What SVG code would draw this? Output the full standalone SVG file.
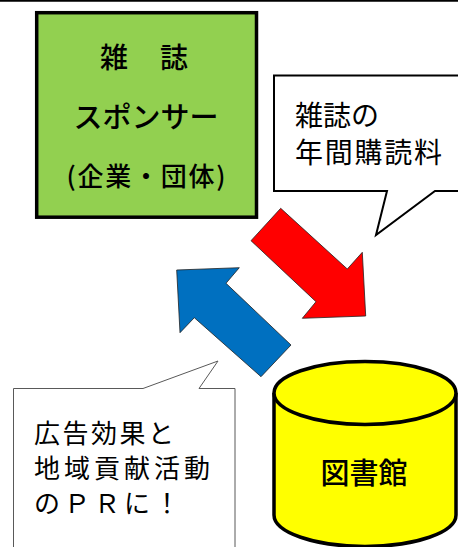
<svg xmlns="http://www.w3.org/2000/svg" width="458" height="547" viewBox="0 0 458 547">
<style>
.jp{font-family:"Noto Sans CJK JP","Noto Sans CJK SC",sans-serif;fill:#000}
.b{font-weight:500}
.call{fill:#fff}
</style>
<rect width="458" height="547" fill="#fff"/>
<line x1="0" y1="0.8" x2="458" y2="0.8" stroke="#000" stroke-width="1.7"/>
<g id="sponsor">
<rect x="36.7" y="12.7" width="219.8" height="204.5" fill="#92D050" stroke="#000" stroke-width="3.5"/>
<text class="jp b" x="145" y="68" font-size="28" text-anchor="middle" letter-spacing="2">雑　誌</text>
<text class="jp b" x="146" y="128" font-size="29" text-anchor="middle" textLength="145" lengthAdjust="spacingAndGlyphs">スポンサー</text>
<text class="jp b" x="146" y="186" font-size="26" text-anchor="middle" textLength="159" lengthAdjust="spacing">(企業・団体)</text>
</g>
<g id="callout-fee">
<path class="call" d="M274,75.5 H470 V191 H435 L376,235 L387,191 H274 Z" stroke="#000" stroke-width="2" stroke-linejoin="miter"/>
<text class="jp" x="295" y="126" font-size="28">雑誌の</text>
<text class="jp" x="295" y="163" font-size="28" textLength="147" lengthAdjust="spacing">年間購読料</text>
</g>
<g id="callout-pr">
<path class="call" d="M13.5,388.5 H143 L218,361 L199,388.5 H235 V560 H13.5 Z" stroke="#595959" stroke-width="1"/>
<text class="jp" x="34" y="443" font-size="26" textLength="140" lengthAdjust="spacing">広告効果と</text>
<text class="jp" x="34" y="478" font-size="26" textLength="176" lengthAdjust="spacing">地域貢献活動</text>
<text class="jp" x="34" y="513" font-size="26" textLength="146" lengthAdjust="spacing">のＰＲに！</text>
</g>
<g id="connectors">
<polygon points="280.7,208.3 251,240.7 316,301.7 302.3,318.3 365.7,316 362.3,252.3 347.3,269" fill="#FF0000" stroke="#222" stroke-width="0.8"/>
<polygon points="176.7,270 239.3,267.7 226,283.3 291,345 261,376.7 194.3,317.7 180,332.7" fill="#0070C0" stroke="#222" stroke-width="0.8"/>
</g>
<g id="library">
<path d="M274,393 V515 A91,31.5 0 0 0 456,515 V393" fill="#FFFF00" stroke="#000" stroke-width="3.5"/>
<ellipse cx="365" cy="393" rx="91" ry="31.5" fill="#FFFF00" stroke="#000" stroke-width="3.5"/>
<text class="jp b" x="364" y="484" font-size="29" text-anchor="middle">図書館</text>
</g>
</svg>
